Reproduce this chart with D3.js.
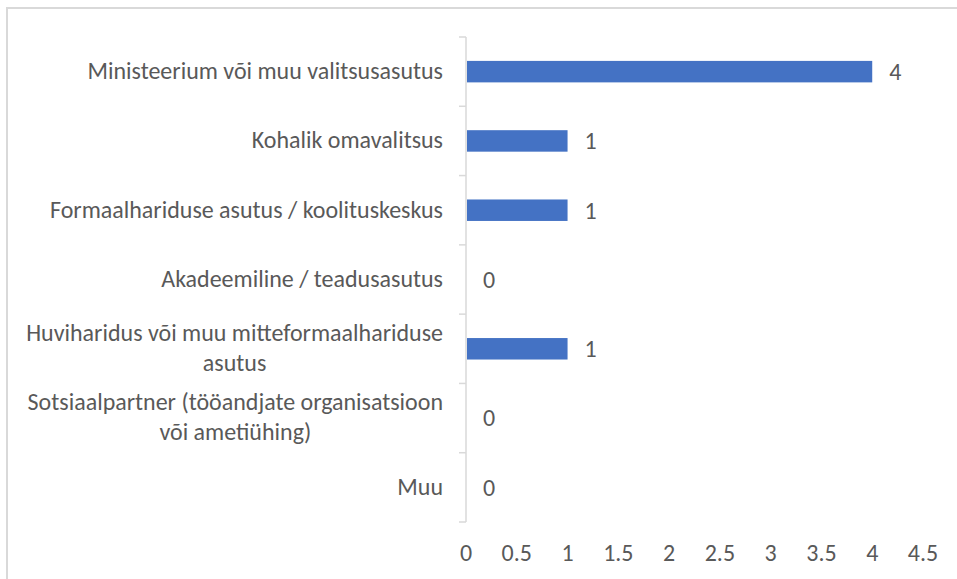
<!DOCTYPE html>
<html>
<head>
<meta charset="utf-8">
<script src="https://cdn.jsdelivr.net/npm/d3@7"></script>
<style>
	body { margin: 0; background: #fff; }
	svg { display: block; }
	text { font-family: Carlito, Lato, "Liberation Sans", sans-serif; fill: #595959; }
</style>
</head>
<body>
<div class="chart"></div>
<script>
var categories = [
	"Ministeerium või muu valitsusasutus",
	"Kohalik omavalitsus",
	"Formaalhariduse asutus / koolituskeskus",
	"Akadeemiline / teadusasutus",
	"Huviharidus või muu mitteformaalhariduse\nasutus",
	"Sotsiaalpartner (tööandjate organisatsioon\nvõi ametiühing)",
	"Muu"
];
var values = [4, 1, 1, 0, 1, 0, 0];
var ticks = [0, 0.5, 1, 1.5, 2, 2.5, 3, 3.5, 4, 4.5];

(function() {
	var width = 957,
		height = 579;

	var margin = {top: 37, left: 466, right: 34, bottom: 57};

	var svg = d3.select(".chart").append("svg")
		.attr("width", width)
		.attr("height", height);

	// chart area border
	svg.append("rect")
		.attr("x", 7).attr("y", 8)
		.attr("width", 1000).attr("height", 1000)
		.attr("fill", "none")
		.attr("stroke", "#d9d9d9")
		.attr("stroke-width", 2);

	var x = d3.scaleLinear()
		.domain([0, 4.5])
		.range([margin.left, width - margin.right]);

	var y = d3.scaleBand()
		.domain(categories)
		.range([margin.top, height - margin.bottom])
		.paddingInner(0.69)
		.paddingOuter(0.345);

	var band = d3.scaleBand()
		.domain(categories)
		.range([margin.top, height - margin.bottom]);

	var fontSize = 23;

	// pick a font size so the longest label line is as wide as the original
	var probe = svg.append("text").attr("font-size", fontSize)
		.text("Huviharidus või muu mitteformaalhariduse");
	var w = probe.node().getComputedTextLength();
	probe.remove();
	fontSize = Math.min(24, fontSize * 417 / w);

	// category axis line with ticks between categories
	var boundaries = categories.map(function(c) { return band(c); })
		.concat([height - margin.bottom]);

	svg.append("line")
		.attr("x1", margin.left).attr("x2", margin.left)
		.attr("y1", margin.top).attr("y2", height - margin.bottom)
		.attr("stroke", "#d9d9d9")
		.attr("stroke-width", 1.5);

	svg.selectAll(".tick-mark")
		.data(boundaries)
		.enter().append("line")
		.attr("class", "tick-mark")
		.attr("x1", margin.left - 7).attr("x2", margin.left)
		.attr("y1", function(d) { return d; })
		.attr("y2", function(d) { return d; })
		.attr("stroke", "#d9d9d9")
		.attr("stroke-width", 1.5);

	// bars
	svg.selectAll(".bar")
		.data(values)
		.enter().append("rect")
		.attr("class", "bar")
		.attr("x", x(0) + 1)
		.attr("y", function(d, i) { return y(categories[i]); })
		.attr("width", function(d) { return Math.max(0, x(d) - x(0) - 1); })
		.attr("height", y.bandwidth())
		.attr("fill", "#4472c4");

	// value labels
	svg.selectAll(".val")
		.data(values)
		.enter().append("text")
		.attr("class", "val")
		.attr("x", function(d) { return x(d) + 17; })
		.attr("y", function(d, i) { return band(categories[i]) + band.bandwidth() / 2; })
		.attr("dy", "0.35em")
		.attr("font-size", fontSize)
		.text(function(d) { return d; });

	// category labels, multi-line ones centered on each other
	var lineH = 30;
	categories.forEach(function(c, i) {
		var lines = c.split("\n");
		var cy = band(c) + band.bandwidth() / 2;
		var g = svg.append("text")
			.attr("font-size", fontSize);
		var tspans = lines.map(function(l, j) {
			return g.append("tspan")
				.attr("y", cy + (j - (lines.length - 1) / 2) * lineH - 1)
				.attr("dy", "0.35em")
				.text(l);
		});
		if (lines.length == 1) {
			g.attr("text-anchor", "end");
			tspans[0].attr("x", 443);
		} else {
			var maxW = d3.max(tspans, function(t) { return t.node().getComputedTextLength(); });
			g.attr("text-anchor", "middle");
			tspans.forEach(function(t) { t.attr("x", 443 - maxW / 2); });
		}
	});

	// value axis labels
	svg.selectAll(".xt")
		.data(ticks)
		.enter().append("text")
		.attr("class", "xt")
		.attr("x", function(d) { return x(d); })
		.attr("y", 553)
		.attr("dy", "0.35em")
		.attr("text-anchor", "middle")
		.attr("font-size", fontSize)
		.text(function(d) { return d; });
})();
</script>
</body>
</html>
